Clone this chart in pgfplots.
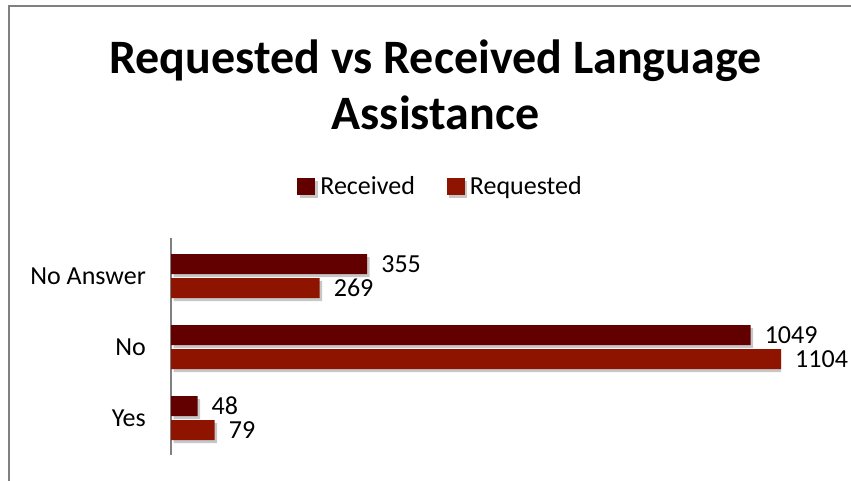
\documentclass[border=0pt]{standalone}
\usepackage{fontspec}
\setmainfont{Carlito}
\usepackage{pgfplots}
\pgfplotsset{compat=1.18}
\usetikzlibrary{shadows}
\definecolor{recv}{RGB}{98,0,0}
\definecolor{reqd}{RGB}{142,20,0}
\definecolor{frame}{RGB}{128,128,128}
\begin{document}
\begin{tikzpicture}
\path[use as bounding box] (0,0) rectangle (851bp,-481bp);
\draw[frame, line width=2bp] (8.5bp,-481bp) -- (8.5bp,-5.5bp) -- (851bp,-5.5bp);
\node[anchor=base, inner sep=0pt, font=\fontsize{48bp}{56bp}\selectfont\bfseries] at (435.5bp,-73bp) {Requested vs Received Language};
\node[anchor=base, inner sep=0pt, font=\fontsize{48bp}{56bp}\selectfont\bfseries] at (435.5bp,-129bp) {Assistance};
\begin{axis}[
  at={(171bp,-455bp)}, anchor=south west,
  scale only axis, width=610bp, height=217bp,
  xbar, bar width=20bp,
  xmin=0, xmax=1104, ymin=-0.52, ymax=2.535,
  axis x line=none, axis y line*=left,
  y axis line style={-, frame, line width=1.5bp},
  ytick={0,1,2}, yticklabels={Yes,No,No Answer},
  major tick length=0pt,
  yticklabel style={anchor=east, inner sep=0pt, xshift=-25bp, font=\fontsize{26bp}{30bp}\selectfont},
  nodes near coords,
  nodes near coords style={anchor=west, inner sep=0pt, xshift=14bp, font=\fontsize{26bp}{30bp}\selectfont, text=black,
    /pgf/number format/.cd, assume math mode=true, 1000 sep={}},
  legend style={at={(0.4418,1.2396)}, anchor=center, draw=none, fill=none,
    legend columns=2, font=\fontsize{26bp}{30bp}\selectfont,
    /tikz/every odd column/.append style={column sep=3bp},
    /tikz/every even column/.append style={column sep=30bp}},
  legend image code/.code={\fill[#1] (0bp,-8.5bp) rectangle (18bp,8.5bp);},
  every axis plot/.append style={draw=none, drop shadow={shadow xshift=2.5bp, shadow yshift=-3bp, opacity=0.4, fill=black!55}},
]
\addplot[fill=recv, bar shift=12bp] coordinates {(48,0) (1049,1) (355,2)};
\addlegendentry{Received}
\addplot[fill=reqd, bar shift=-12bp] coordinates {(79,0) (1104,1) (269,2)};
\addlegendentry{Requested}
\end{axis}
\end{tikzpicture}
\end{document}
